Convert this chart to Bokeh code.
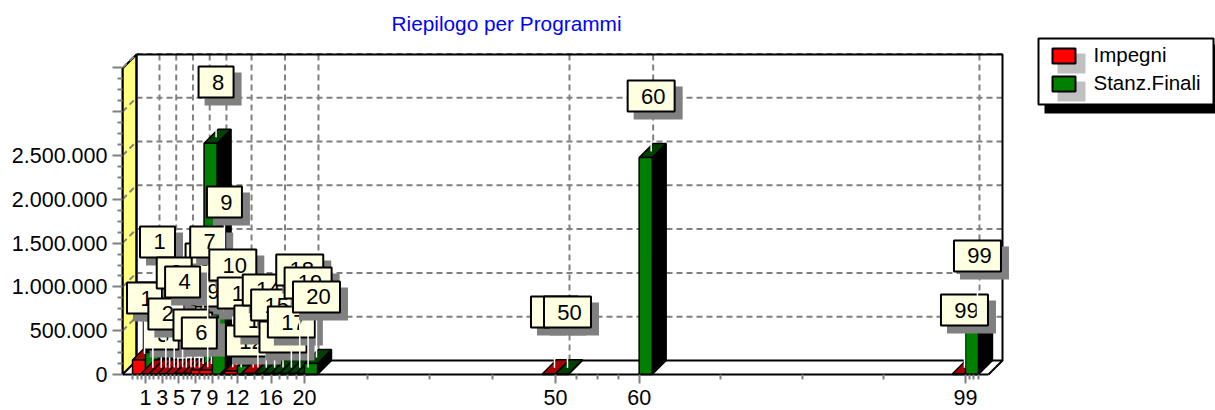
from bokeh.plotting import figure
from bokeh.embed import file_html
from bokeh.resources import INLINE
from bokeh.models import FixedTicker, Range1d
from bokeh.core.properties import value

# ---- data ----
programmi = list(range(1, 21)) + [50, 60, 99]
impegni = [165000, 8000, 8000, 8000, 8000, 10000, 10000, 50000, 50000, None, None,
           40000, None, 10000, None, None, None, None, None, None, 8000, None, 8000]
stanz_finali = [250000, 10000, 10000, 15000, 15000, 10000, 15000, 2640000, 650000, 15000, 15000,
                100000, 10000, 10000, 10000, 10000, 10000, 10000, 10000, 125000, 8000, 2476000, 616000]
# height at which each mark label rests, on the value scale
mark_level_impegni = [696000, 696000, 285000, 491000, 434000, 297000, 354000, 1142000, 776000, None, None,
                      719000, None, 719000, None, None, None, None, None, None, 536000, None, 559000]
mark_level_stanz = [1336000, 514000, 982000, 879000, 388000, 297000, 1336000, 3162000, 1792000, 1073000, 753000,
                    205000, 434000, 788000, 616000, 251000, 422000, 1016000, 868000, 708000, 536000, 3002000, 1176000]
x_ticks = [1, 3, 5, 7, 9, 12, 16, 20, 50, 60, 99]
y_ticks = [0, 500000, 1000000, 1500000, 2000000, 2500000, 3000000, 3500000]
y_tick_labels = ["0", "500.000", "1.000.000", "1.500.000", "2.000.000", "2.500.000", "", ""]
title = "Riepilogo per Programmi"
legend_labels = ["Impegni", "Stanz.Finali"]

# ---- geometry ----
PX_PER_X = 8.367
VAL_PER_PX = 500000 / 43.8
PAGE_LEFT, PAGE_BASE, PAGE_TOP, PAGE_BOTTOM, PAGE_RIGHT = 122, 374, 34, 410, 1215
X1_PAGE = 145
FONT = "Liberation Sans"


def X(px):
    return 1 + (px - X1_PAGE) / PX_PER_X


def Y(py):
    return (PAGE_BASE - py) * VAL_PER_PX


def DX(px):
    return px / PX_PER_X


def DY(px):
    return px * VAL_PER_PX


p = figure(width=1215, height=410, output_backend="svg", toolbar_location=None,
           x_range=Range1d(X(PAGE_LEFT), X(PAGE_RIGHT)), y_range=Range1d(Y(PAGE_BOTTOM), Y(PAGE_TOP)),
           min_border_left=122, min_border_right=0, min_border_top=34, min_border_bottom=0,
           outline_line_color=None, background_fill_color="white", border_fill_color="white")
p.grid.visible = False

p.title.text = title
p.title.text_color = "#0000ff"
p.title.text_font = FONT
p.title.text_font_size = "20.8px"
p.title.text_font_style = "normal"
p.title.align = "left"
p.title.offset = 269
p.title.standoff = 0

# axes
yax = p.yaxis[0]
yax.ticker = FixedTicker(ticks=y_ticks,
                         minor_ticks=[t + s * 125000 for t in y_ticks[:-1] for s in (1, 2, 3)])
yax.major_label_overrides = {t: l for t, l in zip(y_ticks, y_tick_labels)}
yax.bounds = (y_ticks[0], y_ticks[-1])
xax = p.xaxis[0]
xax.fixed_location = 0
major_gaps = list(zip(x_ticks[:-1], x_ticks[1:]))
x_minor = [a + (b - a) * s / 4 for a, b in major_gaps for s in (1, 2, 3)]
x_minor += [x_ticks[0] - s * 0.5 for s in (1, 2, 3)] + [x_ticks[-1] + s * 0.5 for s in (1, 2, 3)]
xax.ticker = FixedTicker(ticks=x_ticks, minor_ticks=x_minor)
xax.major_label_overrides = {t: str(t) for t in x_ticks}
xax.bounds = (X(PAGE_LEFT), X(988))
for ax in (xax, yax):
    ax.axis_line_color = "black"
    ax.axis_line_width = 2
    ax.major_tick_line_color = "#808080"
    ax.major_tick_line_width = 2
    ax.minor_tick_line_color = "#808080"
    ax.minor_tick_line_width = 2
    ax.major_tick_in = 0
    ax.minor_tick_in = 0
    ax.major_label_text_font = FONT
    ax.major_label_text_font_size = "21.5px"
    ax.major_label_text_color = "black"
yax.major_tick_out = 10
yax.minor_tick_out = 5
yax.major_label_standoff = 5
xax.major_tick_out = 9
xax.minor_tick_out = 5
xax.major_label_standoff = 6

DEPTH_X, DEPTH_Y = 14, 14
GRID = "#808080"
# left wall
p.patch([X(122), X(136), X(136), X(122)], [0, DY(DEPTH_Y), Y(54), Y(68)],
        fill_color="#ffff80", line_color="black", line_width=2)
# grid on the wall and on the back
for t in y_ticks[1:]:
    p.line([X(122), X(136)], [t, t + DY(DEPTH_Y)], line_color=GRID, line_width=2, line_dash="6 4")
    p.line([X(136), X(1002)], [t + DY(DEPTH_Y)] * 2, line_color=GRID, line_width=2, line_dash="6 4")
for t in x_ticks:
    p.line([t + DX(DEPTH_X)] * 2, [DY(DEPTH_Y), Y(54)], line_color=GRID, line_width=2, line_dash="6 4")
# frame of the box
p.line([X(136), X(1002), X(1002), X(988)], [Y(54), Y(54), Y(360), Y(374)], line_color="black", line_width=2)
p.line([X(136), X(1002)], [Y(360), Y(360)], line_color="black", line_width=2)
p.line([X(136), X(136)], [Y(54), Y(360)], line_color="black", line_width=2)

# bars, a program at a time
BW = DX(13)
xs, ys, fills = [], [], []


def add_bar(x0, v, front, top):
    x1 = x0 + BW
    dx, dy = DX(DEPTH_X), DY(DEPTH_Y)
    xs.extend([[x1, x1 + dx, x1 + dx, x1], [x0, x1, x1 + dx, x0 + dx], [x0, x1, x1, x0]])
    ys.extend([[0, dy, v + dy, v], [v, v, v + dy, v + dy], [0, 0, v, v]])
    fills.extend(["#000000", top, front])


for d, r, g in zip(programmi, impegni, stanz_finali):
    if r is not None:
        add_bar(d - BW, r, "#ff0000", "#a80000")
    if g is not None:
        add_bar(d, g, "#008000", "#004000")
p.patches(xs, ys, fill_color=fills, line_color="black", line_width=1.5)

# mark labels
BOX_H = 31


def add_mark(d, val, level, center_px, name):
    w = 47 if len(name) > 1 else 35
    c = d + DX(center_px)
    half = DX(w) / 2
    p.segment([c], [level], [c], [val + DY(6)], line_color="white", line_width=1.5)
    p.quad(left=[c - half + DX(6)], right=[c + half + DX(8)], top=[level + DY(BOX_H - 6)], bottom=[level - DY(8)],
           fill_color="#808080", line_color=None)
    p.quad(left=[c - half], right=[c + half], top=[level + DY(BOX_H)], bottom=[level],
           fill_color="#ffffe1", line_color="black", line_width=2)
    p.text([c + DX(2)], [level + DY(BOX_H / 2)], text=[name], text_font=value(FONT), text_font_size="22px",
           text_align="center", text_baseline="middle", text_color="black")


# the red labels stack from the last up to the first
for d, r, lv in reversed(list(zip(programmi, impegni, mark_level_impegni))):
    if r is not None:
        add_mark(d, r, lv, -1, str(d))
for d, g, lv in zip(programmi, stanz_finali, mark_level_stanz):
    add_mark(d, g, lv, 12, str(d))

# legend box
p.quad(left=[X(1044)], right=[X(1215)], top=[Y(44)], bottom=[Y(113)], fill_color="black", line_color=None)
p.quad(left=[X(1038)], right=[X(1213)], top=[Y(38)], bottom=[Y(104)], fill_color="white", line_color="black", line_width=2)
for name, front, y0 in zip(legend_labels, ["#ff0000", "#008000"], [48, 76]):
    p.quad(left=[X(1057)], right=[X(1085)], top=[Y(y0 + 5)], bottom=[Y(y0 + 25)], fill_color="#c0c0c0", line_color=None)
    p.quad(left=[X(1052)], right=[X(1075)], top=[Y(y0)], bottom=[Y(y0 + 15)], fill_color=front, line_color="black", line_width=2)
    p.text([X(1093)], [Y(y0 + 6)], text=[name], text_font=value(FONT), text_font_size="20.5px",
           text_align="left", text_baseline="middle", text_color="black")

open("out.html", "w").write(file_html(p, INLINE))
